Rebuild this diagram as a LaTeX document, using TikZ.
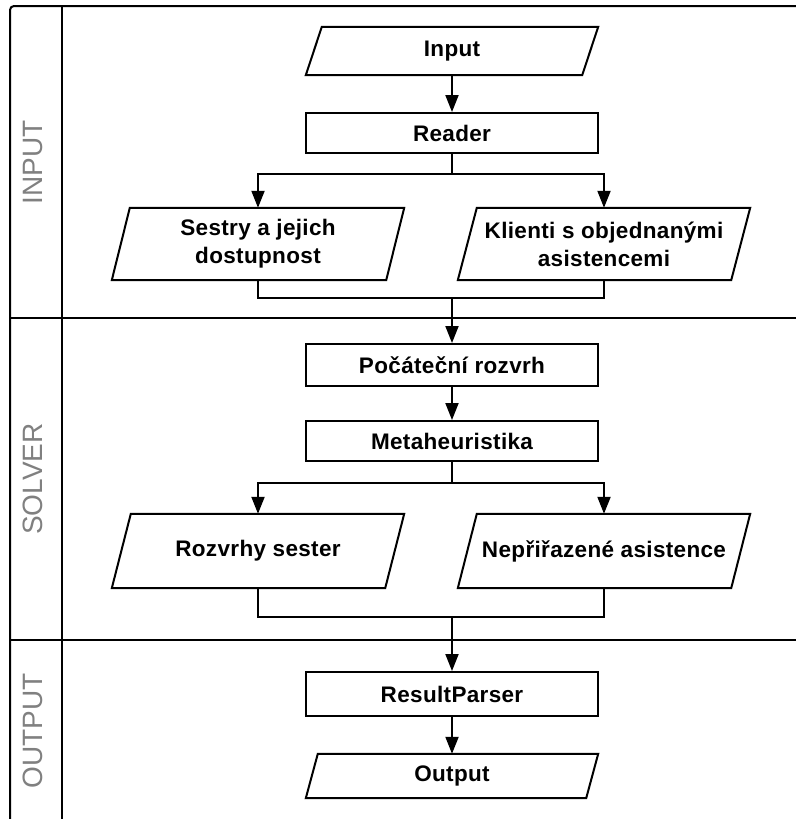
\documentclass[tikz,border=0pt]{standalone}
\usepackage{fontspec}
\setmainfont{Liberation Sans}
\newfontfamily\boxfont{Liberation Sans}[LetterSpace=1.5]
\usetikzlibrary{arrows.meta,calc}
\definecolor{lanegray}{HTML}{808080}
\begin{document}
\begin{tikzpicture}[x=1pt,y=-1pt,
  lane/.style={line width=2pt, black},
  boxline/.style={line width=2pt, black, line join=miter},
  proc/.style={draw, line width=2pt, rectangle, inner sep=0pt, align=center,
    font=\boxfont\bfseries\fontsize{22.5}{28}\selectfont},
  iobox/.style={rectangle, inner sep=0pt, align=center,
    font=\boxfont\bfseries\fontsize{22.5}{28}\selectfont},
  conn/.style={line width=2pt},
  arr/.style={conn, -{Triangle[length=17pt,width=13pt]}},
  lanelabel/.style={rotate=90, text=lanegray, inner sep=0pt,
    font=\fontsize{28}{30}\selectfont}
]
\useasboundingbox (0,0) rectangle (795,819);

% swimlane frame
\draw[lane, rounded corners=4pt] (10,825) -- (10,6) -- (800,6);
\draw[lane] (62,6) -- (62,825);
\draw[lane] (10,318) -- (800,318);
\draw[lane] (10,640) -- (800,640);

\node[lanelabel] (lin)  at (33,162) {INPUT};
\node[lanelabel] (lsol) at (33,479) {SOLVER};
\node[lanelabel] (lout) at (33,731) {OUTPUT};

% nodes
\node[iobox, minimum width=292, minimum height=48] (in) at (452,51) {Input};
\node[proc, minimum width=292, minimum height=40] (reader) at (452,133) {Reader};
\node[iobox, minimum width=292, minimum height=72] (sestry) at (258,244) {Sestry a jejich\\dostupnost};
\node[iobox, minimum width=292, minimum height=72] (klienti) at (604,244) {Klienti s objednanými\\asistencemi};
\node[proc, minimum width=292, minimum height=42] (poc) at (452,365) {Počáteční rozvrh};
\node[proc, minimum width=292, minimum height=40] (meta) at (452,441) {Metaheuristika};
\node[iobox, minimum width=292, minimum height=74] (rozvrhy) at (258,551) {Rozvrhy sester};
\node[iobox, minimum width=292, minimum height=74] (nepr) at (604,551) {Nepřiřazené asistence};
\node[proc, minimum width=292, minimum height=44] (rp) at (452,694) {ResultParser};
\node[iobox, minimum width=292, minimum height=44] (out) at (452,776) {Output};

% parallelogram outlines
\foreach \n/\s in {in/16, sestry/18, klienti/19, rozvrhy/19, nepr/19, out/12}
  \draw[boxline] ([xshift=\s pt]\n.north west) -- (\n.north east)
    -- ([xshift=-\s pt]\n.south east) -- (\n.south west) -- cycle;

% connectors
\draw[arr] (in) -- (reader);
\draw[conn] (reader.south) -- ++(0,20) coordinate (s1);
\draw[arr] (s1) -| (sestry.north);
\draw[arr] (s1) -| (klienti.north);
\coordinate (m1) at (452,298);
\draw[conn] (sestry.south) |- (m1) -| (klienti.south);
\draw[arr] (m1) -- (poc.north);
\draw[arr] (poc) -- (meta);
\draw[conn] (meta.south) -- ++(0,21) coordinate (s2);
\draw[arr] (s2) -| (rozvrhy.north);
\draw[arr] (s2) -| (nepr.north);
\coordinate (m2) at (452,617);
\draw[conn] (rozvrhy.south) |- (m2) -| (nepr.south);
\draw[arr] (m2) -- (rp.north);
\draw[arr] (rp) -- (out);
\end{tikzpicture}
\end{document}
